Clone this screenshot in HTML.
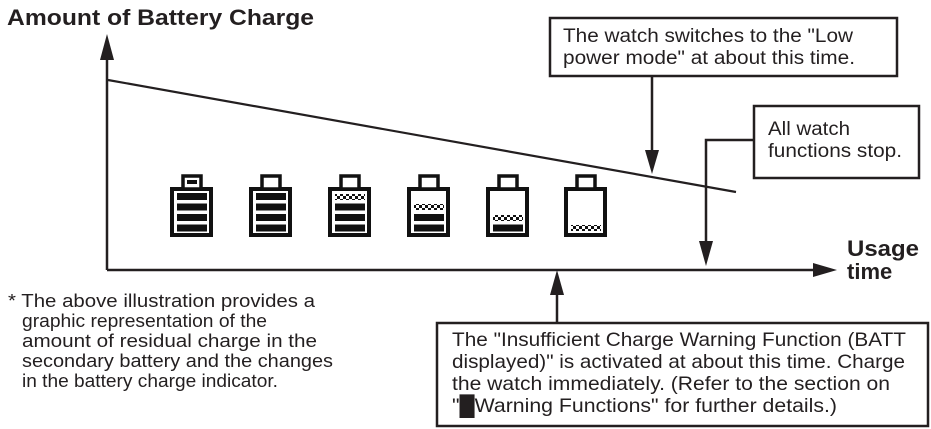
<!DOCTYPE html>
<html><head><meta charset="utf-8"><style>
html,body{margin:0;padding:0;background:#fff;width:931px;height:429px;overflow:hidden}
svg{display:block}
text{font-family:"Liberation Sans",Arial,sans-serif;fill:#231f20}
</style></head><body>
<svg width="931" height="429" viewBox="0 0 931 429" xmlns="http://www.w3.org/2000/svg">
<defs>
<pattern id="chk" x="0" y="0" width="6" height="6" patternUnits="userSpaceOnUse">
<rect x="0" y="0" width="3" height="3" fill="#111"/>
<rect x="3" y="3" width="3" height="3" fill="#111"/>
</pattern>
<g id="bat">
<rect x="2" y="2" width="39" height="46" fill="#fff" stroke="#111" stroke-width="4"/>
<rect x="13" y="-11" width="18" height="13" fill="#fff" stroke="#111" stroke-width="3.5"/>
</g>
</defs>
<g stroke="#231f20" fill="none" stroke-width="2.5">
<line x1="107" y1="270" x2="107" y2="55"/>
<line x1="107" y1="270" x2="818" y2="270"/>
<line x1="108" y1="80" x2="736" y2="192" stroke-width="2.2"/>
<line x1="652" y1="76" x2="652" y2="155"/>
<polyline points="754,140 706,140 706,245"/>
<line x1="557" y1="323" x2="557" y2="290"/>
</g>
<g fill="#231f20">
<polygon points="107,34 100,60 114,60"/>
<polygon points="837,270 813,263 813,277"/>
<polygon points="652,174 645,150 659,150"/>
<polygon points="706,266 699,241 713,241"/>
<polygon points="557,270 550,295 564,295"/>
</g>
<g fill="#fff" stroke="#231f20" stroke-width="2.5">
<rect x="550" y="18" width="347" height="58"/>
<rect x="754" y="106" width="165" height="72"/>
<rect x="437" y="323" width="491" height="103"/>
</g>
<g transform="translate(170,187)"><use href="#bat"/>
<rect x="17" y="-7" width="10" height="4" fill="#111"/>
<rect x="7" y="6" width="30" height="7" fill="#111"/><rect x="7" y="16.5" width="30" height="7" fill="#111"/><rect x="7" y="27" width="30" height="7" fill="#111"/><rect x="7" y="37.5" width="30" height="7" fill="#111"/></g>
<g transform="translate(249,187)"><use href="#bat"/>
<rect x="7" y="6" width="30" height="7" fill="#111"/><rect x="7" y="16.5" width="30" height="7" fill="#111"/><rect x="7" y="27" width="30" height="7" fill="#111"/><rect x="7" y="37.5" width="30" height="7" fill="#111"/></g>
<g transform="translate(328,187)"><use href="#bat"/>
<rect x="7" y="7" width="30" height="6" fill="url(#chk)"/><rect x="7" y="16.5" width="30" height="7" fill="#111"/><rect x="7" y="27" width="30" height="7" fill="#111"/><rect x="7" y="37.5" width="30" height="7" fill="#111"/></g>
<g transform="translate(407,187)"><use href="#bat"/>
<rect x="7" y="17" width="30" height="6" fill="url(#chk)"/><rect x="7" y="27" width="30" height="7" fill="#111"/><rect x="7" y="37.5" width="30" height="7" fill="#111"/></g>
<g transform="translate(486,187)"><use href="#bat"/>
<rect x="7" y="28" width="30" height="6" fill="url(#chk)"/><rect x="7" y="37.5" width="30" height="7" fill="#111"/></g>
<g transform="translate(564,187)"><use href="#bat"/>
<rect x="7" y="38" width="30" height="6" fill="url(#chk)"/></g>
<text x="7" y="25" font-size="22" font-weight="bold" textLength="307" lengthAdjust="spacingAndGlyphs">Amount of Battery Charge</text>
<text x="847" y="256" font-size="22" font-weight="bold" textLength="72" lengthAdjust="spacingAndGlyphs">Usage</text>
<text x="847" y="279" font-size="22" font-weight="bold">time</text>
<g font-size="19">
<text x="563" y="42" textLength="290" lengthAdjust="spacingAndGlyphs">The watch switches to the "Low</text>
<text x="563" y="64" textLength="292" lengthAdjust="spacingAndGlyphs">power mode" at about this time.</text>
<text x="768" y="135" textLength="82" lengthAdjust="spacingAndGlyphs">All watch</text>
<text x="768" y="157" textLength="134" lengthAdjust="spacingAndGlyphs">functions stop.</text>
</g>
<g font-size="18.5">
<text x="8" y="307" textLength="307" lengthAdjust="spacingAndGlyphs">* The above illustration provides a</text>
<text x="22" y="327" textLength="245" lengthAdjust="spacingAndGlyphs">graphic representation of the</text>
<text x="22" y="347" textLength="295" lengthAdjust="spacingAndGlyphs">amount of residual charge in the</text>
<text x="22" y="367" textLength="311" lengthAdjust="spacingAndGlyphs">secondary battery and the changes</text>
<text x="22" y="387" textLength="256" lengthAdjust="spacingAndGlyphs">in the battery charge indicator.</text>
</g>
<g font-size="19.5">
<text x="452" y="346" textLength="454" lengthAdjust="spacingAndGlyphs">The "Insufficient Charge Warning Function (BATT</text>
<text x="452" y="368" textLength="453" lengthAdjust="spacingAndGlyphs">displayed)" is activated at about this time.  Charge</text>
<text x="452" y="390" textLength="438" lengthAdjust="spacingAndGlyphs">the watch immediately.  (Refer to the section on</text>
<text x="452" y="412" textLength="385" lengthAdjust="spacingAndGlyphs">"█Warning Functions" for further details.)</text>
</g>
</svg>
</body></html>
